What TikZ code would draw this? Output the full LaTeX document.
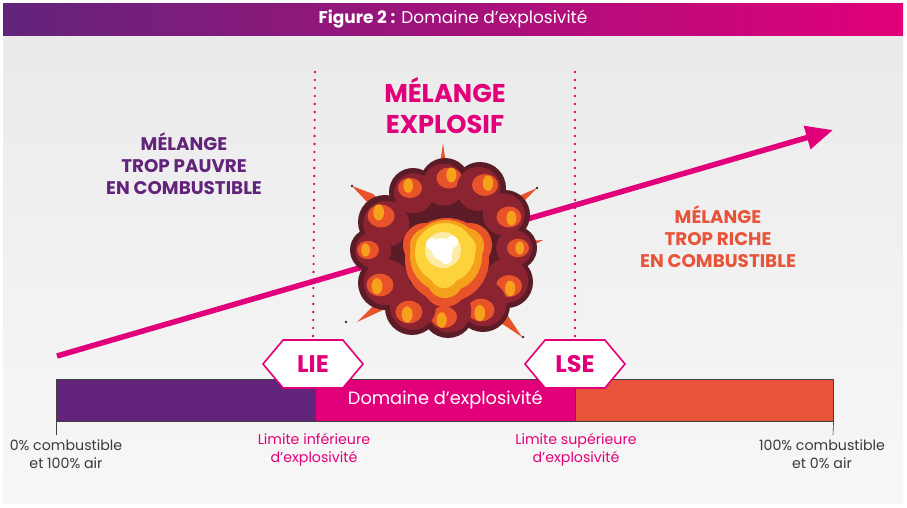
\documentclass[tikz,border=0pt]{standalone}
\usepackage{fontspec}
\setmainfont{Poppins}
\usepackage{tikz}
\usepackage{xcolor}
\usetikzlibrary{shapes.symbols,arrows.meta}
\definecolor{purp}{HTML}{62247B}
\definecolor{magen}{HTML}{E2007A}
\definecolor{orng}{HTML}{E8543A}
\definecolor{txtgray}{HTML}{3A3A3A}
\definecolor{smoke}{HTML}{5C1C27}
\definecolor{fire}{HTML}{8C2330}
\definecolor{flame}{HTML}{E8532A}
\definecolor{glow}{HTML}{F6A11B}
\definecolor{core}{HTML}{FCD33B}
\tikzstyle{hexa} = [signal, signal to=east and west, signal pointer angle=100, draw=magen, line width=1.6pt, fill=white, text=magen, font=\bfseries\fontsize{24}{24}\selectfont, minimum width=100pt, minimum height=48pt, inner sep=0pt]
\tikzstyle{seg} = [rectangle, draw=black!75, line width=0.6pt, minimum height=42pt, inner sep=0pt, anchor=west]
\tikzstyle{small} = [align=center, font=\fontsize{14.2}{18.5}\selectfont]
\tikzstyle{head} = [align=center, font=\bfseries\fontsize{18.3}{22}\selectfont]

\begin{document}
\begin{tikzpicture}[x=1pt, y=-1pt]
			\tikzset{dotline/.style={magen, line width=2.6pt, line cap=round, dash pattern=on 0pt off 8pt}}
\useasboundingbox (0,0) rectangle (907,507);
\fill[white] (0,0) rectangle (907,507);
\shade[bottom color=black!3, top color=black!8] (3,36) rectangle (903,503);
\shade[left color=purp, right color=magen] (3,3) rectangle (903,35);
\node[text=white, font=\fontsize{17}{17}\selectfont] (title) at (453,19) {\textbf{Figure 2 :} Domaine d’explosivité};

% arrow
\coordinate (arrS) at (57,356);
\coordinate (arrE) at (833,130);
\draw[magen, line width=5.5pt, -{Triangle[length=27pt,width=23pt]}] (arrS) -- (arrE);

% explosion
\foreach \tx/\ty/\ax/\ay/\bx/\by/\ix/\iy in {443/143/439/172/447/172/443/205, 352/186/367/202/373/194/410/228, 537/188/518/207/512/199/485/228, 357/322/383/310/377/302/415/280, 522/337/508/316/501/323/475/290, 543/240/528/241/529/247/510/245}
{
	\fill[flame] (\tx,\ty) -- (\ax,\ay) -- (\ix,\iy) -- (\bx,\by) -- cycle;
}
\foreach \dx/\dy in {352/186, 537/188, 346/322, 523/337}
{
	\fill[smoke] (\dx,\dy) circle (1.4);
}
\foreach \cx/\cy/\r in {385/222/27, 413/192/24, 445/183/25, 480/188/26, 505/215/25, 515/248/22, 507/282/26, 483/305/27, 448/312/26, 412/308/27, 385/283/27, 372/250/22, 445/250/60}
{
	\fill[smoke] (\cx,\cy) circle (\r);
}
\foreach \cx/\cy/\r/\ox/\oy in {385/222/27/-4/-6, 413/192/24/-3/-4, 445/183/25/4/-5, 480/188/26/5/-3, 505/215/25/4/2, 515/248/22/3/0, 507/282/26/2/4, 483/305/27/-2/5, 448/312/26/-4/5, 412/308/27/-3/4, 385/283/27/-5/2, 372/250/22/-4/0}
{
	\fill[fire] (\cx-\ox*0.3,\cy-\oy*0.3) circle (\r-4);
	\fill[flame] (\cx+\ox,\cy+\oy) ellipse ({\r*0.5} and {\r*0.42});
	\fill[glow] (\cx+\ox*1.6,\cy+\oy*1.6) ellipse ({\r*0.2} and {\r*0.3});
}
\foreach \cx/\cy/\r in {447/260/42, 425/245/22, 470/245/22, 445/285/22}
{
	\fill[flame] (\cx,\cy) circle (\r);
}
\foreach \cx/\cy/\r in {446/256/36, 428/246/18, 466/246/18, 445/280/18}
{
	\fill[glow] (\cx,\cy) circle (\r);
}
\foreach \cx/\cy/\r in {445/253/30, 430/246/14, 462/248/14, 444/274/14}
{
	\fill[core] (\cx,\cy) circle (\r);
}
\fill[core!45] (443,250) circle (18);
\foreach \cx/\cy/\r in {442/249/11, 432/244/6, 452/242/6, 446/258/6}
{
	\fill[white] (\cx,\cy) circle (\r);
}

% texts
\node[head, text=purp] (poor) at (184,164) {MÉLANGE\\TROP PAUVRE\\EN COMBUSTIBLE};
\node[align=center, text=magen, font=\bfseries\fontsize{25.7}{31}\selectfont] (expl) at (445,106) {MÉLANGE\\EXPLOSIF};
\node[head, text=orng] (rich) at (718,237) {MÉLANGE\\TROP RICHE\\EN COMBUSTIBLE};

% bar
\node[seg, fill=purp, minimum width=259pt] (barL) at (56,400) {};
\node[seg, fill=magen, minimum width=260pt, text=white, font=\fontsize{17.8}{18}\selectfont] (barM) at (315,400) {Domaine d’explosivité};
\node[seg, fill=orng, minimum width=258pt] (barR) at (575,400) {};
\coordinate (t0) at (56,435);
\coordinate (t1) at (833,435);
\draw[black!75, line width=0.6pt] (barL.south west) -- (t0);
\draw[black!75, line width=0.6pt] (barR.south east) -- (t1);

\node[hexa] (lie) at (313,364) {LIE};
\node[hexa] (lse) at (575,364) {LSE};
\coordinate (d1) at (315,72);
\coordinate (d2) at (575,72);
\foreach \from/\to in {d1/lie,d2/lse}
{
	\draw[dotline] (\from) -- (\to.north);
}

\node[small, text=magen] (lieT) at (314,450) {Limite inférieure\\d’explosivité};
\node[small, text=magen] (lseT) at (576,450) {Limite supérieure\\d’explosivité};
\node[small, text=txtgray] (zero) at (66,454) {0\% combustible\\et 100\% air};
\node[small, text=txtgray] (full) at (822,454) {100\% combustible\\et 0\% air};

		\end{tikzpicture}
\end{document}
